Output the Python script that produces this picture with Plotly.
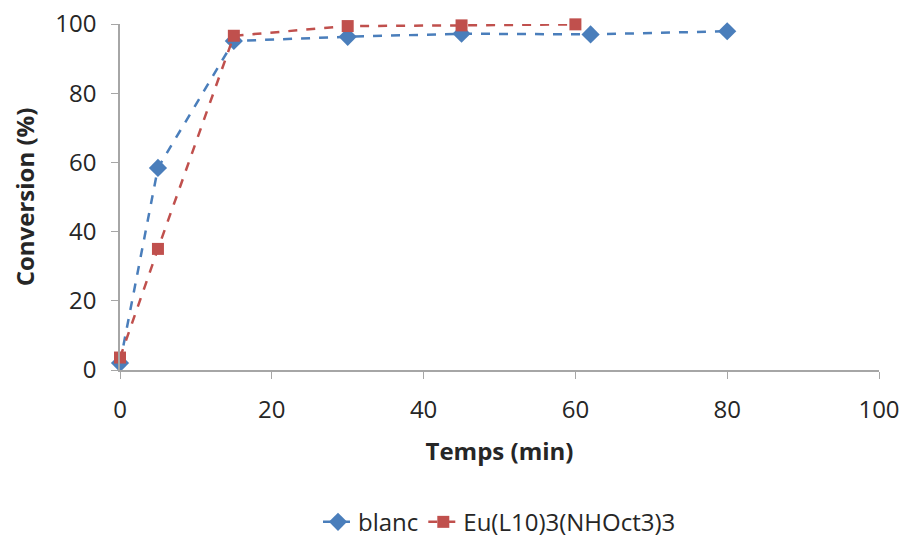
import plotly.graph_objects as go

blanc_x = [0, 5, 15, 30, 45, 62, 80]
blanc_y = [2.0, 58.4, 95.1, 96.3, 97.2, 97.0, 97.9]
eu_x = [0, 5, 15, 30, 45, 60]
eu_y = [3.6, 35.0, 96.6, 99.4, 99.6, 99.9]

x_ticks = [0, 20, 40, 60, 80, 100]
y_ticks = [0, 20, 40, 60, 80, 100]

blue = "#4A7EBB"
red = "#C0504D"
text_color = "#262626"

fig = go.Figure()
fig.add_trace(go.Scatter(x=blanc_x, y=blanc_y, name="blanc", mode="lines+markers",
                         line=dict(color=blue, width=2.5, dash="dash"),
                         marker=dict(symbol="diamond", size=14, color=blue),
                         cliponaxis=False))
fig.add_trace(go.Scatter(x=eu_x, y=eu_y, name="Eu(L10)3(NHOct3)3", mode="lines+markers",
                         line=dict(color=red, width=2.5, dash="dash"),
                         marker=dict(symbol="square", size=12, color=red),
                         cliponaxis=False))

axis_common = dict(showgrid=False, zeroline=False, showline=True, linecolor="#A6A6A6",
                   linewidth=1.5, ticks="outside", tickcolor="#A6A6A6", ticklen=7,
                   tickfont=dict(size=24, color=text_color), automargin=False,
                   ticklabelstandoff=10)
fig.update_xaxes(range=[0, 100], tickvals=x_ticks,
                 title=dict(text="<b>Temps (min)</b>", font=dict(size=24, color=text_color), standoff=20),
                 **axis_common)
fig.update_yaxes(range=[0, 100], tickvals=y_ticks,
                 title=dict(text="<b>Conversion (%)</b>", font=dict(size=24, color=text_color), standoff=14),
                 **axis_common)

fig.update_layout(width=906, height=539, plot_bgcolor="white", paper_bgcolor="white",
                  font=dict(family="Open Sans, Liberation Sans, sans-serif", color=text_color),
                  margin=dict(l=120, r=27, t=24, b=169, autoexpand=False),
                  legend=dict(orientation="h", x=0.5, xanchor="center", y=-0.375, yanchor="top",
                              font=dict(size=24), traceorder="normal"),
                  showlegend=True)

fig.write_html("out.html", config={"displayModeBar": False},
               post_script="document.body.style.margin='0';")
